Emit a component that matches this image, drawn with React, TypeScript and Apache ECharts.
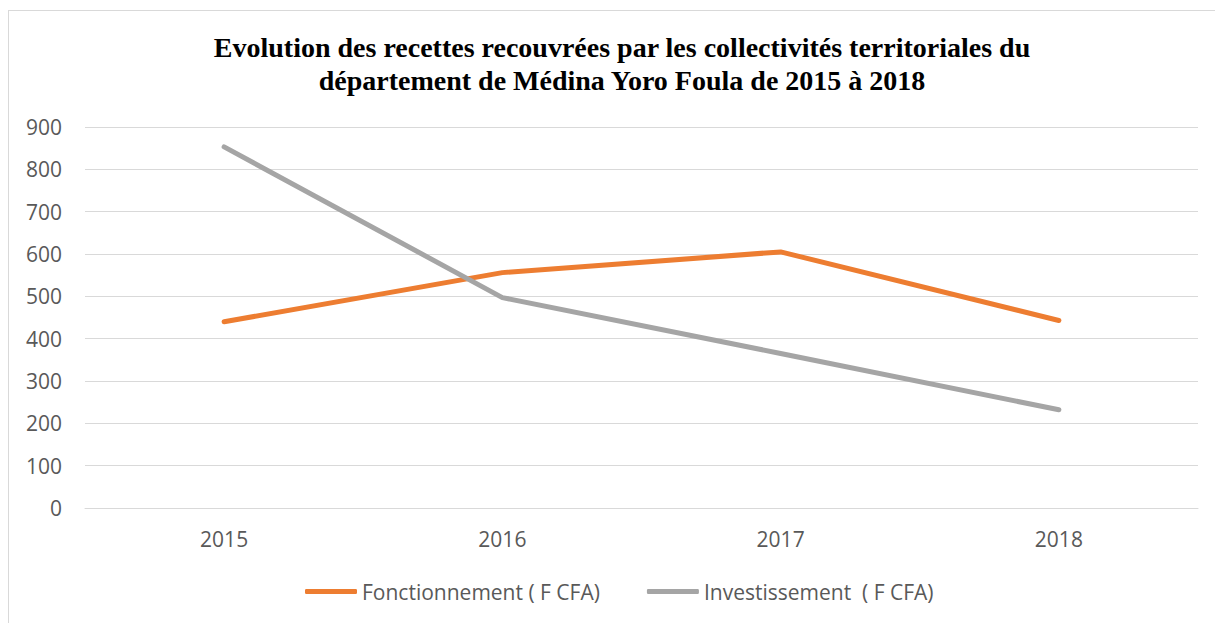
import React, { useEffect, useRef } from "react";
import * as echarts from "echarts";

const titleLines = [
  "Evolution des recettes recouvrées par les collectivités territoriales du",
  "département de Médina Yoro Foula de 2015 à 2018",
];
const years = ["2015", "2016", "2017", "2018"];
const seriesNames = ["Fonctionnement ( F CFA)", "Investissement  ( F CFA)"];
const fonctionnement = [440, 556, 605, 443];
const investissement = [853, 497, 365, 232];
const seriesColors = ["#ED7D31", "#A5A5A5"];

export default function App() {
  const ref = useRef<HTMLDivElement>(null);
  useEffect(() => {
    if (!ref.current) return;
    const chart = echarts.init(ref.current, undefined, { renderer: "svg" });
    const labelFont = "'Open Sans', 'Noto Sans', sans-serif";
    chart.setOption({
      animation: false,
      backgroundColor: "#ffffff",
      title: {
        text: titleLines.join("\n"),
        left: 617,
        textAlign: "center",
        top: 26,
        textStyle: {
          fontFamily: "'Liberation Serif', 'Times New Roman', serif",
          fontWeight: "bold",
          fontSize: 28,
          lineHeight: 33,
          color: "#000000",
        },
      },
      graphic: [
        { type: "line", shape: { x1: 8, y1: 10.5, x2: 1215, y2: 10.5 }, style: { stroke: "#d9d9d9", lineWidth: 1 } },
        { type: "line", shape: { x1: 8.5, y1: 10, x2: 8.5, y2: 623 }, style: { stroke: "#d9d9d9", lineWidth: 1 } },
      ],
      grid: { left: 85, right: 17, top: 127, bottom: 115, containLabel: false },
      xAxis: {
        type: "category",
        data: years,
        boundaryGap: true,
        axisLine: { show: true, lineStyle: { color: "#d9d9d9", width: 1 } },
        axisTick: { show: false },
        axisLabel: { color: "#595959", fontSize: 21, fontFamily: labelFont, margin: 20 },
      },
      yAxis: {
        type: "value",
        min: 0,
        max: 900,
        interval: 100,
        axisLine: { show: false },
        axisTick: { show: false },
        splitLine: { lineStyle: { color: "#d9d9d9", width: 1 } },
        axisLabel: { color: "#595959", fontSize: 21, fontFamily: labelFont, margin: 23 },
      },
      legend: {
        left: 300,
        top: 576,
        itemWidth: 52,
        itemHeight: 5,
        itemGap: 47,
        icon: "roundRect",
        textStyle: { color: "#595959", fontSize: 21, fontFamily: labelFont },
        data: seriesNames,
      },
      series: [
        {
          name: seriesNames[0],
          type: "line",
          data: fonctionnement,
          symbol: "none",
          color: seriesColors[0],
          lineStyle: { width: 5, color: seriesColors[0], cap: "round", join: "round" },
        },
        {
          name: seriesNames[1],
          type: "line",
          data: investissement,
          symbol: "none",
          color: seriesColors[1],
          lineStyle: { width: 5, color: seriesColors[1], cap: "round", join: "round" },
        },
      ],
    });
    return () => chart.dispose();
  }, []);
  return (
    <div
      ref={ref}
      style={{ position: "absolute", left: 0, top: 0, width: 1215, height: 623 }}
    />
  );
}
